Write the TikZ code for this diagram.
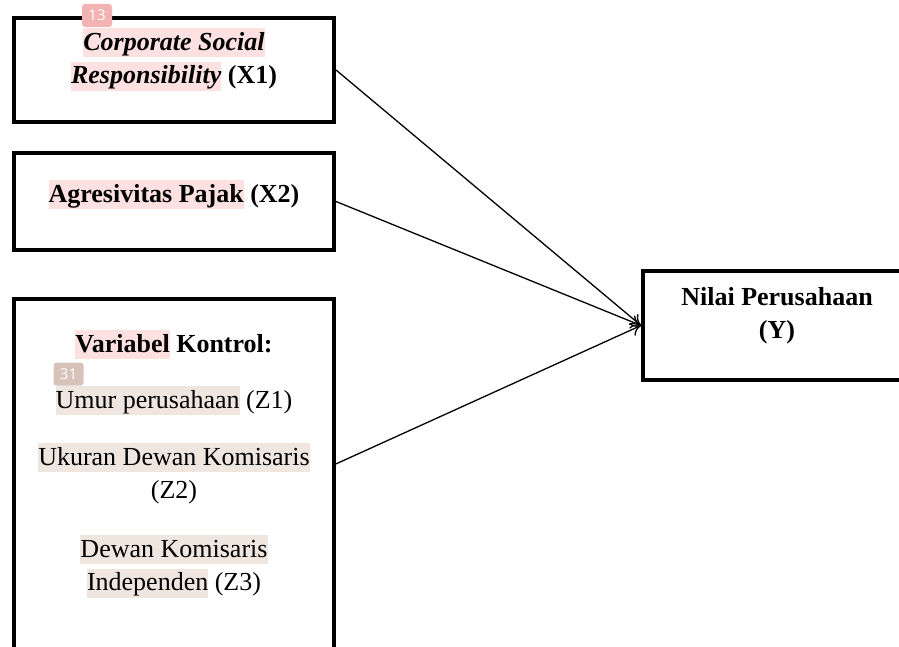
\documentclass[tikz,border=0pt]{standalone}
\usepackage{fontspec}
\setmainfont{Liberation Serif}
\setsansfont{Open Sans}
\usetikzlibrary{arrows.meta,positioning}

\definecolor{hlpink}{HTML}{FDE1E1}
\definecolor{hlbeige}{HTML}{EFE6E0}
\definecolor{tagpink}{HTML}{F3B3B3}
\definecolor{tagbeige}{HTML}{D8C3BA}

\newcommand\hstrut{\rule[-7pt]{0pt}{29pt}}
\newcommand\hlpink[1]{{\fboxsep=0pt\colorbox{hlpink}{\hstrut#1}}}
\newcommand\hlbeige[1]{{\fboxsep=0pt\colorbox{hlbeige}{\hstrut#1}}}

\tikzset{
  varbox/.style={draw, line width=4pt, inner sep=0pt, minimum width=320pt},
  vartext/.style={align=center, inner sep=0pt, anchor=north,
    font=\fontsize{26}{33.5}\selectfont},
  tag/.style={fill=#1, rounded corners=3pt, inner sep=0pt,
    minimum width=30pt, minimum height=23pt, text=white,
    font=\sffamily\fontsize{15}{15}\selectfont},
  link/.style={line width=1.3pt, -{To[length=10pt,width=14pt]}}
}

\begin{document}
\begin{tikzpicture}[x=1pt, y=-1pt]
  \useasboundingbox (0,0) rectangle (899,647);

  % boxes
  \node[varbox, minimum height=104pt] (csr) at (174,70) {};
  \node[varbox, minimum height=97pt] (pajak) at (174,201.5) {};
  \node[varbox, minimum height=401pt] (kontrol) at (174,499.4) {};
  \node[varbox, minimum width=268pt, minimum height=109pt] (nilai) at (777,325.5) {};

  % texts
  \node[vartext] (csr-text) at (174,28)
    {\hlpink{\textbf{\textit{Corporate Social}}}\\
     \hlpink{\textbf{\textit{Responsibility}}} \textbf{(X1)}};
  \node[vartext] (pajak-text) at (174,180)
    {\hlpink{\textbf{Agresivitas Pajak}} \textbf{(X2)}};
  \node[vartext] (kontrol-text) at (174,330)
    {\hlpink{\textbf{Variabel}} \textbf{Kontrol:}};
  \node[vartext] (z1) at (174,386)
    {\hlbeige{Umur perusahaan} (Z1)};
  \node[vartext] (z2) at (174,443)
    {\hlbeige{Ukuran Dewan Komisaris}\\(Z2)};
  \node[vartext] (z3) at (174,535)
    {\hlbeige{Dewan Komisaris}\\\hlbeige{Independen} (Z3)};
  \node[vartext] (nilai-text) at (777,283)
    {\hstrut\textbf{Nilai Perusahaan}\\\textbf{(Y)}};

  % connectors
  \coordinate (kz) at ([yshift=-167pt]kontrol.north east);
  \draw[link] (csr.east) -- (nilai.west);
  \draw[link] (pajak.east) -- (nilai.west);
  \draw[link] (kz) -- (nilai.west);

  % tags
  \node[tag=tagpink] (tag13) at (97,15.5) {13};
  \node[tag=tagbeige] (tag31) at (68.5,374) {31};
\end{tikzpicture}
\end{document}
